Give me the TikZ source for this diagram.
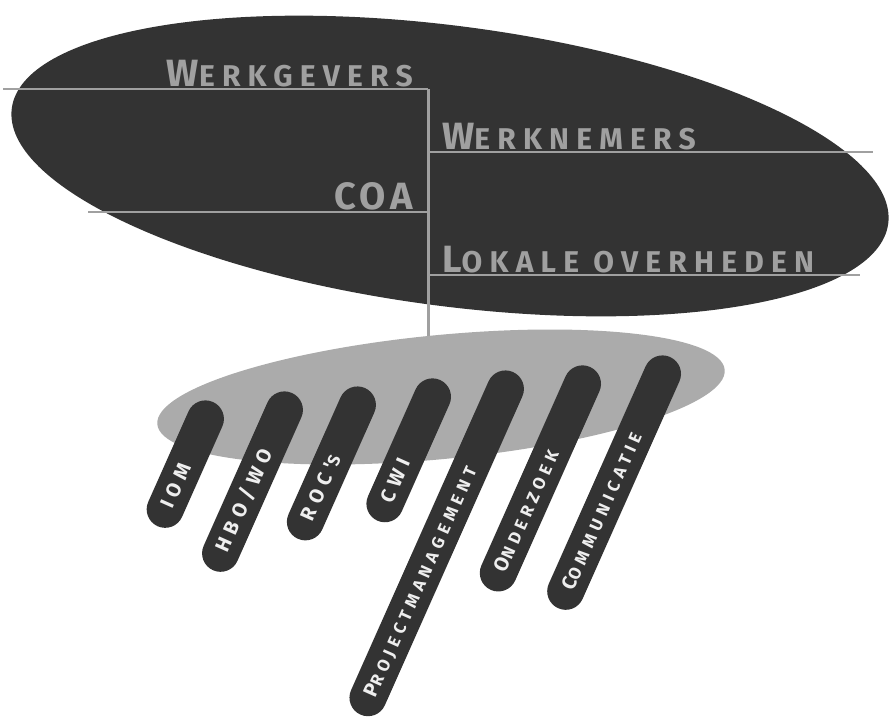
\documentclass[tikz,border=0pt]{standalone}
\usepackage{fontspec}
\usepackage{tikz}
\usepackage{xcolor}
\usetikzlibrary{shapes.geometric}
\newfontfamily\kopfont[LetterSpace=24]{Fira Sans}
\newfontfamily\coafont[LetterSpace=12]{Fira Sans}
\newfontfamily\balkfont[LetterSpace=30]{Fira Sans}
\definecolor{donker}{HTML}{333333}
\definecolor{grijs}{HTML}{A0A0A0}
\definecolor{schijf}{HTML}{ABABAB}
\definecolor{wit}{HTML}{EEEEEE}
\newcommand{\klein}[1]{{\fontsize{30}{30}\selectfont #1}}
\newcommand{\kleinb}[1]{{\fontsize{17}{17}\selectfont #1}}
\tikzstyle{partij} = [font={\kopfont\bfseries\fontsize{38}{38}\selectfont}, text=grijs, inner sep=0pt]
\tikzstyle{lijn} = [draw=grijs, line width=2pt]
\tikzstyle{balk} = [rectangle, fill=donker, rounded corners=18.5pt, rotate=66, minimum height=37pt, inner ysep=0pt, inner xsep=21pt, text height=14pt, text depth=0pt, align=left, text=wit, font={\balkfont\bfseries\fontsize{20}{20}\selectfont}]

\begin{document}
\begin{tikzpicture}[x=1pt,y=1pt]
  \useasboundingbox (0,0) rectangle (889,-716);
  \node[ellipse, fill=donker, minimum width=884pt, minimum height=280pt, inner sep=0pt, rotate=-7.5] (Overleg) at (450,-166) {};

  \coordinate (stamtop) at (428,-89);
  \coordinate (stamvoet) at (428,-360);
  \coordinate (wg_links) at (3,-89);
  \coordinate (wn_stam) at (428,-152);
  \coordinate (wn_rechts) at (873,-152);
  \coordinate (coa_links) at (88,-212);
  \coordinate (coa_stam) at (428,-212);
  \coordinate (lo_stam) at (428,-275);
  \coordinate (lo_rechts) at (860,-275);

  \node[partij, anchor=base east] (Werkgevers) at (413,-86) {W\klein{ERKGEVERS}};
  \node[partij, anchor=base west] (Werknemers) at (442,-149) {W\klein{ERKNEMERS}};
  \node[partij, anchor=base east, font={\coafont\bfseries\fontsize{38}{38}\selectfont}] (COA) at (413,-209) {COA};
  \node[partij, anchor=base west] (Lokaal) at (442,-272) {L\klein{OKALE OVERHEDEN}};

  \draw[lijn] (wg_links) -- (stamtop);
  \draw[lijn] (wn_stam) -- (wn_rechts);
  \draw[lijn] (coa_links) -- (coa_stam);
  \draw[lijn] (lo_stam) -- (lo_rechts);
  \draw[lijn, line width=3pt] (stamtop) -- (stamvoet);

  \node[ellipse, fill=schijf, minimum width=570pt, minimum height=124pt, inner sep=0pt, rotate=5.5] (Uitvoering) at (441,-397) {};

  \node[balk, minimum width=136pt, text width=94pt] (IOM) at (185.3,-464.1) {IOM};
  \node[balk, minimum width=194pt, text width=152pt] (HBO) at (252.5,-481.6) {HBO/WO};
  \node[balk, minimum width=165pt, text width=123pt] (ROC) at (331.4,-463.4) {ROC'\kleinb{S}};
  \node[balk, minimum width=154pt, text width=112pt] (CWI) at (408.7,-450.3) {CWI};
  \node[balk, minimum width=375pt, text width=333pt] (Project) at (436.7,-543.3) {P\kleinb{ROJECTMANAGEMENT}};
  \node[balk, minimum width=244pt, text width=202pt] (Onderzoek) at (540.4,-478.4) {O\kleinb{NDERZOEK}};
  \node[balk, minimum width=275pt, text width=233pt] (Communicatie) at (614.1,-482.6) {C\kleinb{OMMUNICATIE}};
\end{tikzpicture}
\end{document}
